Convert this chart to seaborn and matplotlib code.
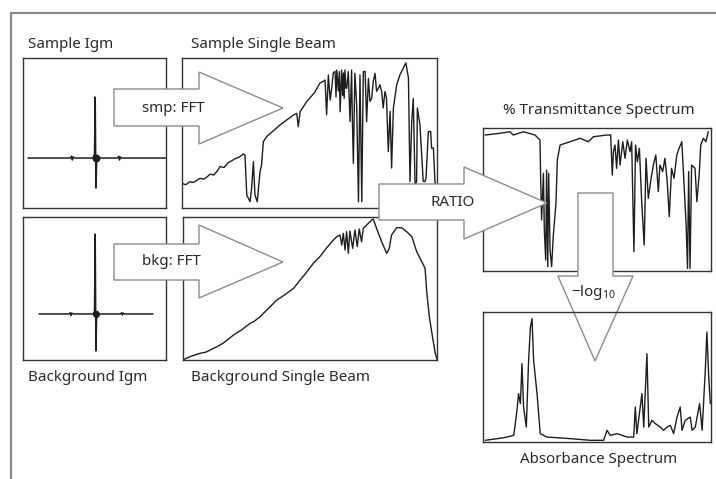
import numpy as np
import pandas as pd
import seaborn as sns
import matplotlib
matplotlib.use("Agg")
import matplotlib.pyplot as plt
import matplotlib.transforms as mtransforms
from matplotlib.patches import Polygon
from matplotlib.lines import Line2D

# ---------------------------------------------------------------- data
# Sample interferogram (centre burst on a flat baseline), 0-100 panel units
smp_igm_x = [3.5, 33, 34, 34.5, 35, 36, 49, 50, 50.5, 51, 51.5, 52, 53, 66, 67, 67.5, 68, 69, 100]
smp_igm_y = [33.3, 33.3, 34.5, 32, 34, 33.3, 33.3, 36, 74, 13.3, 30, 35, 33.3, 33.3, 34.5, 32, 34, 33.3, 33.3]

# Background interferogram
bkg_igm_x = [11.2, 32, 33, 33.5, 34, 35, 49, 50, 50.5, 51, 51.5, 52, 53, 68, 69, 69.5, 70, 71, 90.9]
bkg_igm_y = [32.2, 32.2, 33, 31.2, 32.8, 32.2, 32.2, 34, 88.1, 6.3, 30, 34, 32.2, 32.2, 33, 31.4, 32.8, 32.2, 32.2]

# Sample single beam
smp_sb_x = [0, 1.5, 3, 4.5, 7.1, 8.5, 10, 11, 12.5, 14,
            14.9, 16.5, 18, 19, 21, 22.5, 24.1, 24.7, 25.4, 26.7,
            27.3, 28, 28.6, 29.5, 30.6, 31.2, 31.9, 33.2, 38.4, 43.7,
            45, 45.6, 46.3, 48.9, 52, 54.1, 55.4, 56.1, 56.7, 57.4,
            58.1, 58.7, 59.3, 60, 60.4, 60.7, 61.3, 61.7, 62, 62.6,
            63, 63.3, 63.6, 63.9, 64.3, 64.6, 65.2, 65.9, 66.5, 66.8,
            67.2, 67.8, 68.5, 69.2, 69.8, 70.5, 71.1, 71.8, 72.4, 73.1,
            73.7, 74.4, 75, 75.7, 76.3, 77, 77.6, 78.3, 78.9, 79.6,
            80.2, 80.9, 81.6, 82.2, 82.9, 84.2, 85.5, 86.8, 87.8, 88.8,
            89.4, 90.1, 90.7, 91.4, 92, 92.3, 93.3, 94.6, 95.3, 95.7,
            96.6, 97.5, 97.9, 98.6, 99.2, 100]
smp_sb_y = [16.4, 15.5, 17.5, 17, 19.8, 19.2, 21, 22.5, 22, 25,
            27.6, 27, 30, 31, 33, 34, 36, 35.3, 8.7, 4.2,
            13.1, 30.9, 8.7, 4.2, 24.2, 28.7, 44.2, 47.6, 55.3, 62,
            63.1, 54.2, 64.2, 70.9, 77, 83.3, 84.4, 85.3, 62.2, 88.7,
            72, 79.8, 89.8, 91.1, 74, 92, 78, 91, 64.2, 92,
            75, 90, 73.1, 92, 80, 79.8, 90.9, 57.6, 92, 60,
            29.8, 89.8, 68.7, 4.2, 88.7, 4.2, 90.9, 91.1, 57.6, 86.4,
            71.1, 73.1, 84.4, 89.8, 77.8, 79.8, 82.2, 77.6, 66.7, 77.6,
            73.3, 37.6, 64.4, 26.7, 66.7, 82.2, 88.9, 93.3, 96.7, 86.7,
            17.6, 57.6, 73.1, 15.3, 17.6, 66.7, 55.6, 17.8, 17.6, 20,
            50.9, 51.1, 39.8, 40, 17.6, 11]

# Background single beam
bkg_sb_x = [0.5, 3, 6.8, 9, 13.4, 16, 19.9, 23, 26.5, 28,
            30.4, 33, 37, 40, 43.6, 46.1, 48.5, 51.3, 54, 56.4,
            59.2, 60.5, 61.8, 62.5, 63.1, 63.8, 64.4, 65.1, 65.7, 66.8,
            67.7, 68.6, 69.4, 70.3, 71, 72.3, 74.3, 74.9, 76.2, 78.2,
            80.2, 81.2, 82.1, 84.1, 86.1, 88.1, 90.1, 92, 94, 95.3,
            96, 97, 98, 99.3, 100]
bkg_sb_y = [0.5, 2.5, 4.7, 5.5, 9.3, 12, 17.5, 21, 25.7, 27,
            30.4, 35, 42, 45.5, 50.2, 55.9, 61, 67.6, 72.5, 78.1,
            83.9, 86.2, 87.4, 80.4, 88.6, 76.9, 89.7, 74.6, 90.2, 78.1,
            90.9, 79.3, 91.6, 82.7, 92.1, 94.4, 97.9, 98.6, 92.1, 82.7,
            74.6, 78.1, 87.4, 92.5, 92.5, 89.7, 86.2, 75.8, 68.8, 64.1,
            46.7, 30, 18.7, 4.7, 0.5]

# Percent transmittance
trans_x = [0.9, 7.5, 11.8, 13.3, 17.7, 22.8, 25, 25.3, 25.7, 26.5,
           26.9, 27.5, 27.9, 28.4, 28.8, 29.4, 30.1, 30.8, 32, 32.6,
           33.8, 38.2, 42.5, 46.2, 48.4, 54.4, 56, 56.7, 57.2, 57.9,
           58.6, 59.4, 60.1, 61.3, 62.3, 63.3, 64.5, 65.2, 66.2, 66.9,
           67.7, 68.6, 69.6, 70.7, 71.5, 72.5, 73.5, 74.7, 75.8, 76.9,
           77.6, 78.8, 79.8, 80.8, 81.7, 82.7, 83.8, 85, 86, 87.2,
           88.2, 89.1, 89.7, 90.2, 90.8, 91.5, 93, 93.8, 94.8, 95.5,
           96.7, 97.8, 98.8]
trans_y = [95.1, 96.3, 97.4, 95.1, 97.4, 95.1, 91.6, 63.6, 35.7, 68.3,
           28.7, 7.7, 70.6, 3, 68.3, 14.7, 3, 24, 47.3, 77.6,
           88.1, 90.4, 92.8, 90.4, 93.9, 95.1, 95.1, 67.1, 83.4, 88.1,
           71.8, 91.6, 74.1, 90.4, 78.8, 91.6, 83.4, 90.4, 13.5, 88.1,
           76.4, 85.8, 48.5, 18.2, 78.8, 50.8, 62.5, 74.1, 81.1, 55.5,
           74.1, 69.5, 78.8, 62.5, 38, 71.8, 64.8, 81.1, 85.8, 90.4,
           60.1, 32.1, 1.8, 69.5, 1.8, 74.1, 71.8, 48.5, 67.1, 88.1,
           92.8, 90.4, 97.4]

# Absorbance
abs_x = [1, 9.1, 13.5, 14.9, 15.6, 16.4, 17.1, 17.8, 19, 20, 20.8, 21.5, 22.2, 23.7, 25.1, 28.1, 38.3,
         47.1, 52.9, 54.4, 55.8, 58.8, 63.2, 66.1, 66.8, 67.5, 69.7, 70.5, 71.9, 72.7, 74.1, 75.6,
         77.8, 79.2, 80.7, 82.2, 83.6, 85.1, 86.5, 87.3, 88.7, 90.9, 91.7, 93.1, 95, 96.1, 97.5,
         98.2, 99, 99.7]
abs_y = [1.3, 3.3, 5.1, 24.4, 37.2, 29.5, 60.3, 26.9, 11.5, 62.8, 88.5, 94.9, 62.8, 37.2, 6.4, 3.8, 2.6,
         1.3, 1.3, 9, 5.1, 6.4, 3.8, 3.8, 26.9, 6.4, 37.2, 11.5, 67.9, 11.5, 16.7, 14.1,
         11.5, 9, 11.5, 12.8, 6.4, 19.2, 26.9, 9, 16.7, 19.2, 9, 11.5, 29.5, 9, 55.1,
         84.6, 50, 29.5]

panel_titles = ["Sample Igm", "Sample Single Beam", "Background Igm", "Background Single Beam",
                "% Transmittance Spectrum", "Absorbance Spectrum"]
arrow_labels = ["smp: FFT", "bkg: FFT", "RATIO", r"$\mathregular{-log_{10}}$"]

# ---------------------------------------------------------------- style
sns.set_theme(style="white")
plt.rcParams["font.family"] = ["Noto Sans", "DejaVu Sans"]
TXT = "#2a2a2a"
LINE = "#1e1e1e"
BOX = "#333333"
ARR = "#8c8c8c"

W, H = 716, 479
fig = plt.figure(figsize=(W / 100, H / 100), dpi=100)
fig.patch.set_facecolor("white")
# pixel coordinates (origin top-left) -> figure
px = mtransforms.Affine2D().scale(1 / W, -1 / H).translate(0, 1) + fig.transFigure


def panel(x0, y0, x1, y1, z=0, transparent=False):
    ax = fig.add_axes([x0 / W, 1 - y1 / H, (x1 - x0) / W, (y1 - y0) / H], zorder=z)
    ax.set_xticks([])
    ax.set_yticks([])
    for s in ax.spines.values():
        s.set_color(BOX)
        s.set_linewidth(1.0)
    if transparent:
        ax.patch.set_alpha(0)
    return ax


def trace(ax, xs, ys, lw=1.0):
    df = pd.DataFrame({"x": xs, "y": ys})
    sns.lineplot(data=df, x="x", y="y", ax=ax, sort=False, estimator=None,
                 color=LINE, linewidth=lw)
    ax.set_xlabel("")
    ax.set_ylabel("")
    ax.set_xticks([])
    ax.set_yticks([])
    ax.set_xlim(0, 100)
    ax.set_ylim(0, 100)


ax_si = panel(23, 58, 166, 208)
trace(ax_si, smp_igm_x, smp_igm_y, lw=1.1)
ax_si.scatter([smp_igm_x[9]], [smp_igm_y[0]], s=22, color=LINE, zorder=3)

ax_ss = panel(182, 58, 437, 208)
trace(ax_ss, smp_sb_x, smp_sb_y)

ax_bi = panel(23, 217, 166, 360)
trace(ax_bi, bkg_igm_x, bkg_igm_y, lw=1.1)
ax_bi.scatter([bkg_igm_x[9]], [bkg_igm_y[0]], s=16, color=LINE, zorder=3)

ax_bs = panel(183, 217, 437, 360)
trace(ax_bs, bkg_sb_x, bkg_sb_y)

ax_tr = panel(483, 128, 711, 271)
trace(ax_tr, trans_x, trans_y)

ax_ab = panel(483, 312, 711, 442, z=2, transparent=True)
trace(ax_ab, abs_x, abs_y)

# ---------------------------------------------------------------- frame
fig.add_artist(Line2D([11, 716], [13, 13], transform=px, color="#8a8a8a", lw=1.6))
fig.add_artist(Line2D([11, 11], [13, 479], transform=px, color="#8a8a8a", lw=1.6))

# ---------------------------------------------------------------- arrows
arrows = [
    [(114, 89), (199, 89), (199, 72), (283, 108), (199, 144), (199, 126), (114, 126)],
    [(114, 244), (199, 244), (199, 225), (283, 262), (199, 298), (199, 280), (114, 280)],
    [(379, 184), (464, 184), (464, 167), (547, 203), (464, 239), (464, 220), (379, 220)],
    [(578, 193), (613, 193), (613, 276), (633, 276), (595, 361), (558, 276), (578, 276)],
]
for pts in arrows:
    fig.add_artist(Polygon(pts, closed=True, transform=px, facecolor="white",
                           edgecolor=ARR, linewidth=1.0, zorder=1))

# ---------------------------------------------------------------- text
fs = 10.9
fig.text(28, 44, panel_titles[0], transform=px, ha="left", va="center", fontsize=fs, color=TXT)
fig.text(191, 44, panel_titles[1], transform=px, ha="left", va="center", fontsize=fs, color=TXT)
fig.text(28, 378, panel_titles[2], transform=px, ha="left", va="center", fontsize=fs, color=TXT)
fig.text(191, 378, panel_titles[3], transform=px, ha="left", va="center", fontsize=fs, color=TXT)
fig.text(599, 110, panel_titles[4], transform=px, ha="center", va="center", fontsize=fs, color=TXT)
fig.text(599, 460, panel_titles[5], transform=px, ha="center", va="center", fontsize=fs, color=TXT)

fig.text(142, 108, arrow_labels[0], transform=px, ha="left", va="center", fontsize=fs, color=TXT, zorder=3)
fig.text(142, 262, arrow_labels[1], transform=px, ha="left", va="center", fontsize=fs, color=TXT, zorder=3)
fig.text(430, 203, arrow_labels[2], transform=px, ha="left", va="center", fontsize=fs, color=TXT, zorder=3)
fig.text(593, 293, arrow_labels[3], transform=px, ha="center", va="center", fontsize=fs, color=TXT, zorder=3)

fig.savefig("out.png", dpi=100, facecolor="white")
